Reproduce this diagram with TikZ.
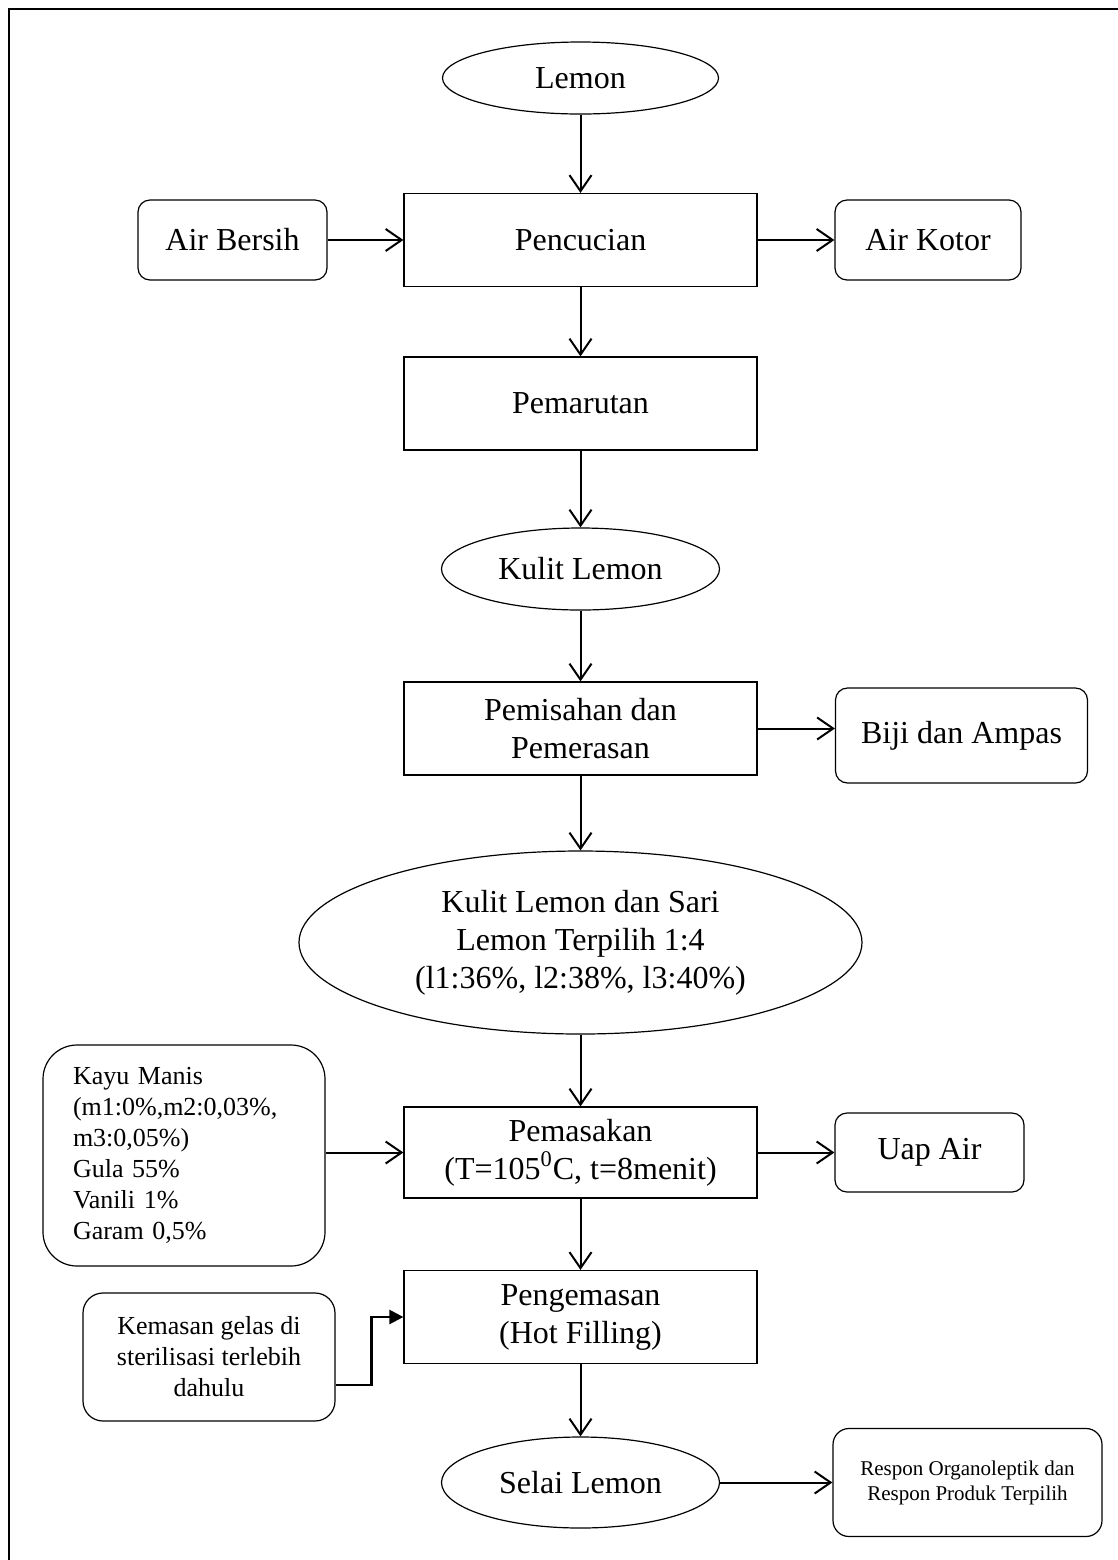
\documentclass[tikz,border=0pt]{standalone}
\usepackage{fontspec}
\setmainfont{Liberation Serif}
\usetikzlibrary{positioning,shapes,arrows.meta}

\begin{document}
\begin{tikzpicture}[x=0.5pt,y=-0.5pt,
  font=\fontsize{16}{19}\selectfont,
  box/.style={draw,line width=0.6pt,minimum width=176.5pt,minimum height=46.5pt,align=center,inner sep=0pt},
  rbox/.style={draw,line width=0.6pt,rounded corners=6pt,align=center,inner sep=0pt},
  oval/.style={draw,ellipse,line width=0.6pt,align=center,inner sep=0pt},
  arr/.style={-{Straight Barb[length=8pt,width=11pt]},line width=1pt},
  elb/.style={-{Triangle[length=7pt,width=7pt]},line width=1.2pt}]
\useasboundingbox (0,0) rectangle (1118,1560);
\draw[line width=1.4pt] (9,1560) -- (9,9) -- (1118,9);

% alur utama
\node[oval,minimum width=138pt,minimum height=36pt] (lemon) at (580.5,78) {Lemon};
\node[box] (pencucian) at (580.5,240) {Pencucian};
\node[rbox,minimum width=94.5pt,minimum height=40pt] (airbersih) at (232.5,240) {Air Bersih};
\node[rbox,minimum width=93pt,minimum height=40pt] (airkotor) at (928,240) {Air Kotor};
\node[box] (pemarutan) at (580.5,403.5) {Pemarutan};
\node[oval,minimum width=139pt,minimum height=41pt] (kulitlemon) at (580.5,569) {Kulit Lemon};
\node[box] (pemisahan) at (580.5,728.5) {Pemisahan dan\\Pemerasan};
\node[rbox,minimum width=126pt,minimum height=47.5pt] (biji) at (961.5,735.5) {Biji dan Ampas};
\node[oval,minimum width=281.5pt,minimum height=91.5pt] (sari) at (580.5,942.5)
  {Kulit Lemon dan Sari\\Lemon Terpilih 1:4\\(l1:36\%, l2:38\%, l3:40\%)};
\node[rbox,rounded corners=17pt,minimum width=141pt,minimum height=110.5pt,text width=111pt,
  align=left,font=\fontsize{13}{15.5}\selectfont] (kayu) at (184,1155.5)
  {Kayu Manis\\(m1:0\%,m2:0,03\%,\\m3:0,05\%)\\Gula 55\%\\Vanili 1\%\\Garam 0,5\%};
\node[box,minimum height=45.5pt] (pemasakan) at (580.5,1152.5) {Pemasakan\\(T=105\textsuperscript{0}C, t=8menit)};
\node[rbox,minimum width=94.5pt,minimum height=39.5pt] (uapair) at (929.5,1152.5) {Uap Air};
\node[box] (pengemasan) at (580.5,1317) {Pengemasan\\(Hot Filling)};
\node[rbox,rounded corners=10pt,minimum width=126pt,minimum height=64pt,
  font=\fontsize{13}{15.5}\selectfont] (kemasan) at (209,1357)
  {Kemasan gelas di\\sterilisasi terlebih\\dahulu};
\node[oval,minimum width=139pt,minimum height=45.5pt] (selai) at (580.5,1482.5) {Selai Lemon};
\node[rbox,rounded corners=8pt,minimum width=134.5pt,minimum height=54pt,
  font=\fontsize{10.5}{12.5}\selectfont] (respon) at (967.5,1482.5)
  {Respon Organoleptik dan\\Respon Produk Terpilih};

% panah
\draw[arr] (lemon) -- (pencucian);
\draw[arr] (airbersih) -- (pencucian);
\draw[arr] (pencucian) -- (airkotor);
\draw[arr] (pencucian) -- (pemarutan);
\draw[arr] (pemarutan) -- (kulitlemon);
\draw[arr] (kulitlemon) -- (pemisahan);
\draw[arr] (pemisahan.east) -- (pemisahan.east -| biji.west);
\draw[arr] (pemisahan) -- (sari);
\draw[arr] (sari) -- (pemasakan);
\draw[arr] (kayu.east |- pemasakan.west) -- (pemasakan.west);
\draw[arr] (pemasakan) -- (uapair);
\draw[arr] (pemasakan) -- (pengemasan);
\draw[elb] ([yshift=-14pt]kemasan.east) -- ++(36,0) |- (pengemasan.west);
\draw[arr] (pengemasan) -- (selai);
\draw[arr] (selai) -- (respon);
\end{tikzpicture}
\end{document}
